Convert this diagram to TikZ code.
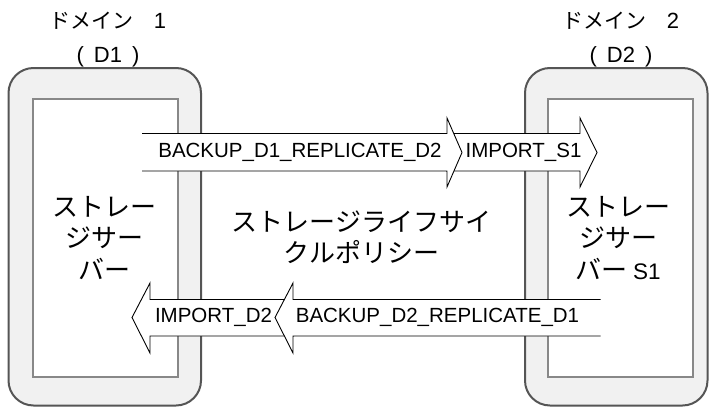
\documentclass[tikz,border=0pt]{standalone}
\usepackage{fontspec}
\setmainfont{Liberation Sans}
\newfontfamily\jp{Noto Sans CJK JP}
\definecolor{boxfill}{HTML}{F1F1F1}
\definecolor{outerline}{HTML}{555555}
\definecolor{innerline}{HTML}{888888}
\begin{document}
\begin{tikzpicture}[x=1pt,y=-1pt,
  outerbox/.style={draw=outerline,fill=boxfill,line width=2pt,rounded corners=25pt},
  innerbox/.style={draw=innerline,fill=white,line width=2pt},
  arrowfill/.style={fill=white},
  arrowline/.style={draw=black,line width=0.9pt,line join=miter},
  lbl/.style={inner sep=0pt,font=\fontsize{20.5}{24}\selectfont},
  head/.style={inner sep=0pt,align=center,font=\fontsize{22}{34}\selectfont},
  body/.style={inner sep=0pt,align=center,font=\jp\fontsize{26}{31.5}\selectfont}]
\useasboundingbox (0,0) rectangle (709,407);
% domain boxes
\draw[outerbox] (8.5,68) rectangle (201,405.5);
\draw[innerbox] (33,99) rectangle (178,377);
\draw[outerbox] (525,68) rectangle (707.5,405.5);
\draw[innerbox] (548,99) rectangle (693,377);
% headings
\node[head] (h1) at (108,39.5) {{\jp\fontsize{21}{34}\selectfont ドメイン}\hspace{20pt}1\\(\hspace{10pt}D1\hspace{10pt})};
\node[head] (h2) at (621,39.5) {{\jp\fontsize{21}{34}\selectfont ドメイン}\hspace{20pt}2\\(\hspace{10pt}D2\hspace{10pt})};
% box texts
\node[body] (s1) at (104.5,238) {ストレー\\ジサー\\バー};
\node[body] (s2) at (618,238) {ストレー\\ジサー\\バー {\rmfamily\fontsize{22.5}{24}\selectfont S1}};
\node[body] (pol) at (361.5,237) {ストレージライフサイ\\クルポリシー};
% top arrows: IMPORT_S1 under, BACKUP on top
\fill[arrowfill] (446,133.5) -- (580,133.5) -- (580,118) -- (597,152.5) -- (580,187) -- (580,171) -- (446,171) -- cycle;
\draw[arrowline] (446,133.5) -- (580,133.5) -- (580,118) -- (597,152.5) -- (580,187) -- (580,171) -- (446,171);
\fill[arrowfill] (142,133.5) -- (447,133.5) -- (447,118) -- (462,152.5) -- (447,187) -- (447,171) -- (142,171) -- cycle;
\draw[arrowline] (142,133.5) -- (447,133.5) -- (447,118) -- (462,152.5) -- (447,187) -- (447,171) -- (142,171);
\node[lbl] (a1) at (300,152.5) {BACKUP\_D1\_REPLICATE\_D2};
\node[lbl] (a2) at (523.5,152.5) {IMPORT\_S1};
% bottom arrows: IMPORT_D2 under, BACKUP on top
\fill[arrowfill] (294,299.5) -- (150,299.5) -- (150,283) -- (132,317.5) -- (150,353) -- (150,336) -- (294,336) -- cycle;
\draw[arrowline] (294,299.5) -- (150,299.5) -- (150,283) -- (132,317.5) -- (150,353) -- (150,336) -- (294,336);
\fill[arrowfill] (600.5,299.5) -- (293,299.5) -- (293,283) -- (275,317.5) -- (293,353) -- (293,336) -- (600.5,336) -- cycle;
\draw[arrowline] (600.5,299.5) -- (293,299.5) -- (293,283) -- (275,317.5) -- (293,353) -- (293,336) -- (600.5,336);
\node[lbl] (b1) at (437.5,317.5) {BACKUP\_D2\_REPLICATE\_D1};
\node[lbl] (b2) at (213.5,317.5) {IMPORT\_D2};
\end{tikzpicture}
\end{document}
